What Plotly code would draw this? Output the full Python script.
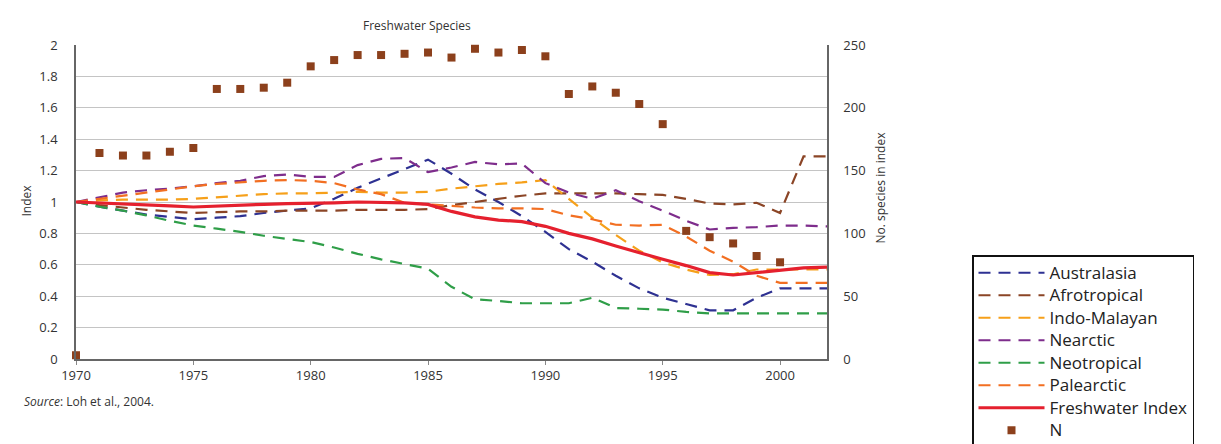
import plotly.graph_objects as go

years = list(range(1970, 2003))

australasia = [1.0, 0.97, 0.945, 0.92, 0.905, 0.89, 0.90, 0.91, 0.93, 0.945, 0.96, 1.02, 1.09, 1.15, 1.21, 1.27,
               1.18, 1.08, 1.0, 0.91, 0.81, 0.70, 0.62, 0.53, 0.45, 0.39, 0.35, 0.31, 0.31, 0.39, 0.45, 0.45, 0.45]
afrotropical = [1.0, 0.98, 0.965, 0.95, 0.94, 0.93, 0.935, 0.94, 0.94, 0.945, 0.945, 0.945, 0.95, 0.95, 0.95, 0.955,
                0.98, 1.0, 1.02, 1.04, 1.055, 1.055, 1.055, 1.055, 1.05, 1.045, 1.02, 0.99, 0.985, 0.995, 0.93, 1.29, 1.29]
indo_malayan = [1.0, 1.01, 1.015, 1.015, 1.015, 1.02, 1.03, 1.04, 1.05, 1.055, 1.055, 1.06, 1.065, 1.06, 1.06, 1.065,
                1.085, 1.10, 1.115, 1.125, 1.14, 1.02, 0.90, 0.79, 0.69, 0.615, 0.57, 0.535, 0.54, 0.57, 0.57, 0.57, 0.57]
nearctic = [1.0, 1.03, 1.06, 1.075, 1.085, 1.10, 1.12, 1.135, 1.165, 1.175, 1.16, 1.16, 1.235, 1.275, 1.28, 1.19,
            1.22, 1.255, 1.24, 1.245, 1.12, 1.06, 1.02, 1.075, 1.005, 0.945, 0.88, 0.825, 0.835, 0.84, 0.85, 0.85, 0.845]
neotropical = [1.0, 0.97, 0.945, 0.915, 0.88, 0.85, 0.83, 0.81, 0.785, 0.765, 0.745, 0.71, 0.67, 0.635, 0.605, 0.575,
               0.46, 0.38, 0.37, 0.355, 0.355, 0.355, 0.39, 0.325, 0.32, 0.315, 0.30, 0.29, 0.29, 0.29, 0.29, 0.29, 0.29]
palearctic = [1.0, 1.02, 1.04, 1.06, 1.08, 1.10, 1.115, 1.125, 1.135, 1.14, 1.135, 1.12, 1.08, 1.05, 0.995, 0.985,
              0.975, 0.965, 0.96, 0.96, 0.955, 0.915, 0.89, 0.855, 0.85, 0.855, 0.78, 0.69, 0.62, 0.53, 0.485, 0.485, 0.485]
freshwater = [1.0, 0.995, 0.99, 0.985, 0.975, 0.968, 0.975, 0.98, 0.985, 0.99, 0.99, 0.995, 1.0, 1.0, 0.995, 0.985,
              0.94, 0.905, 0.885, 0.875, 0.845, 0.80, 0.765, 0.72, 0.675, 0.635, 0.595, 0.55, 0.535, 0.55, 0.56, 0.58, 0.585]

n_years = list(range(1970, 2001))
n_species = [3, 164, 162, 162, 165, 168, 215, 215, 216, 220, 233, 238, 242, 242, 243, 244,
             240, 247, 244, 246, 241, 211, 217, 212, 203, 187, 102, 97, 92, 82, 77]

series = [
    ("Australasia", australasia, "#2E3192"),
    ("Afrotropical", afrotropical, "#8B4526"),
    ("Indo-Malayan", indo_malayan, "#F6A01A"),
    ("Nearctic", nearctic, "#7E2D8C"),
    ("Neotropical", neotropical, "#2F9E48"),
    ("Palearctic", palearctic, "#F26F22"),
]

FONT = "Open Sans"


def lname(s):
    return '<span style="font-size:17px">' + s + '</span>'


fig = go.Figure()
for name, vals, color in series:
    fig.add_trace(go.Scatter(x=years, y=vals, name=lname(name), mode="lines",
                             line=dict(color=color, width=2.2, dash="12px,8px")))
fig.add_trace(go.Scatter(x=years, y=freshwater, name=lname("Freshwater Index"), mode="lines",
                         line=dict(color="#E5202E", width=3.2)))
fig.add_trace(go.Scatter(x=n_years, y=n_species, name=lname("N"), mode="markers", yaxis="y2",
                         marker=dict(symbol="square", size=8, color="#8C401C"), cliponaxis=False))

# page body has an 8px margin, so pixel targets are shifted by 8
OFF = 8
W, H = 1221, 444
L, R, T, B = 76 - OFF, W - (827 - OFF), 45 - OFF, H - (359 - OFF)
pw, ph = W - L - R, H - T - B


def px(x):
    return (x - OFF - L) / pw


def py(y):
    return (H - B - (y - OFF)) / ph


fig.update_layout(
    width=W, height=H,
    margin=dict(l=L, r=R, t=T, b=B, autoexpand=False),
    paper_bgcolor="white", plot_bgcolor="white",
    font=dict(family=FONT, size=13, color="#333333"),
    showlegend=True,
    legend=dict(x=px(972), y=py(255), xanchor="left", yanchor="top",
                font=dict(size=15, color="#222222", family=FONT),
                bordercolor="#111111", borderwidth=1.5, bgcolor="white",
                itemwidth=66, tracegroupgap=0),
    xaxis=dict(range=[1970, 2002], tickvals=[1970, 1975, 1980, 1985, 1990, 1995, 2000],
               showgrid=False, showline=True, linecolor="#666666", linewidth=1.5,
               ticks="outside", ticklen=4, tickcolor="#888888", zeroline=False,
               tickfont=dict(size=13, color="#333333")),
    yaxis=dict(range=[0, 2], tickvals=[0, 0.2, 0.4, 0.6, 0.8, 1, 1.2, 1.4, 1.6, 1.8, 2],
               ticktext=["0", "0.2", "0.4", "0.6", "0.8", "1", "1.2", "1.4", "1.6", "1.8", "2"],
               showgrid=True, gridcolor="#c4c4c4", gridwidth=1.3, zeroline=False,
               showline=True, linecolor="#666666", linewidth=1.5, ticks="",
               ticklabelstandoff=14, tickfont=dict(size=13, color="#333333")),
    yaxis2=dict(range=[0, 250], overlaying="y", side="right", tickvals=[0, 50, 100, 150, 200, 250],
                showgrid=False, zeroline=False, showline=True, linecolor="#666666", linewidth=1.5,
                ticks="", ticklabelstandoff=12, tickfont=dict(size=13, color="#333333")),
    annotations=[
        dict(text="Freshwater Species", x=px(417), y=py(15), xref="paper", yref="paper", showarrow=False,
             font=dict(size=12, color="#333333")),
        dict(text="Index", x=px(15), y=py(200), xref="paper", yref="paper", showarrow=False,
             textangle=-90, font=dict(size=12, color="#333333")),
        dict(text="No. species in index", x=px(890), y=py(188), xref="paper", yref="paper", showarrow=False,
             textangle=-90, font=dict(size=12, color="#333333")),
        dict(text="<i>Source</i>: Loh et al., 2004.", x=px(22), y=py(412), xref="paper", yref="paper",
             showarrow=False, xanchor="left", font=dict(size=12, color="#333333")),
    ],
)

fig.write_html("out.html")
